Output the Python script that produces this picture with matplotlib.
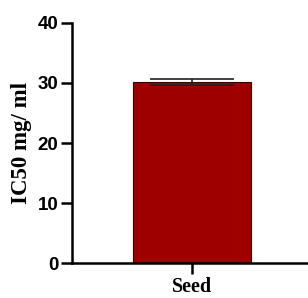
import matplotlib.pyplot as plt

# data
groups = ["Seed"]
ic50 = [30.2]
ic50_err = [0.5]

fig = plt.figure(figsize=(3.08, 2.98), dpi=100)
ax = fig.add_axes([0.234, 0.117, 0.766, 0.806])

ax.bar(range(len(groups)), ic50, width=1.0, color="#9e0000",
       edgecolor="#3a0000", linewidth=0.8, zorder=2)
ax.errorbar(range(len(groups)), ic50, yerr=ic50_err, fmt="none",
            ecolor="#222222", elinewidth=1.2, capsize=30, capthick=1.2, zorder=3)

ax.set_xlim(-1.02, 0.98)
ax.set_ylim(0, 40)
ax.set_yticks([0, 10, 20, 30, 40])
ax.set_xticks(range(len(groups)))
ax.set_xticklabels(groups, fontfamily="Liberation Serif", fontweight="bold", fontsize=14.5)
for lab in ax.get_yticklabels():
    lab.set_fontfamily("Liberation Sans")
    lab.set_fontweight("bold")
    lab.set_fontsize(13.5)

ax.set_ylabel("IC50 mg/ ml", fontfamily="Liberation Serif", fontweight="bold",
              fontsize=16.5, labelpad=4)

ax.spines["top"].set_visible(False)
ax.spines["right"].set_visible(False)
ax.spines["left"].set_linewidth(1.8)
ax.spines["bottom"].set_linewidth(1.8)
ax.tick_params(axis="both", width=1.8, length=8, pad=2)
ax.tick_params(axis="x", pad=2)

fig.savefig("out.png", dpi=100)
